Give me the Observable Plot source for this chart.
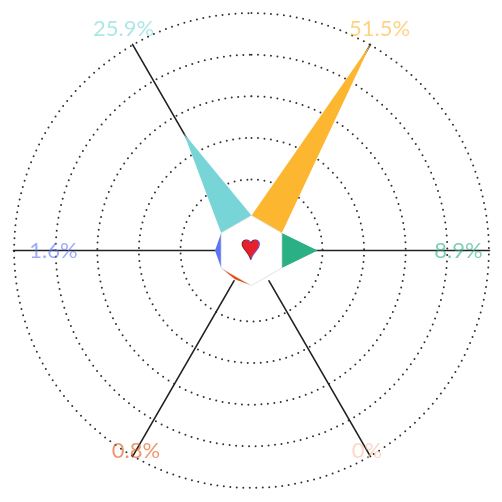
<!DOCTYPE html>
<html>
<head>
<meta charset="utf-8">
<script src="https://cdn.jsdelivr.net/npm/d3@7"></script>
<script src="https://cdn.jsdelivr.net/npm/@observablehq/plot@0.6"></script>
<style>
  body { margin: 0; background: #fff; }
  #chart text.lbl { filter: blur(0.5px); }
</style>
</head>
<body>
<div id="chart"></div>
<script>
// datos
const labels = ["51.5%", "8.9%", "0%", "0.8%", "1.6%", "25.9%"]
const values = [51.5, 8.9, 0, 0.8, 1.6, 25.9]
const angles = [30, 90, 150, 210, 270, 330]
const colors = ["#FDB62F", "#2BAF84", "#F4BFA6", "#E2500F", "#5B73F8", "#78D5D7"]
const labelR = [256, 207, 231, 231, 198, 256]
const rings = [1, 2, 3, 4, 5]

const cx = 251, cy = 250, hexR = 35
const r = d3.scaleLinear().domain([0, 51.5]).range([30, 239])
const pt = (a, rad) => [cx + rad * Math.sin(a * Math.PI / 180), cy - rad * Math.cos(a * Math.PI / 180)]

let wedges = []
values.forEach((v, i) => {
  const a = angles[i]
  ;[pt(a - 30, hexR), pt(a, r(v)), pt(a + 30, hexR)].forEach(p => wedges.push({x: p[0], y: p[1], k: i}))
})
let hex = d3.range(0, 361, 60).map(a => { const p = pt(a, hexR); return {x: p[0], y: p[1]} })
let circles = []
rings.forEach(k => d3.range(0, 361, 2).forEach(a => { const p = pt(a, 71 + (k - 1) * 41.6); circles.push({x: p[0], y: p[1], k}) }))
let axes = []
angles.forEach((a, i) => [hexR, 238].forEach(rad => { const p = pt(a, rad); axes.push({x: p[0], y: p[1], k: i}) }))
let lbls = angles.map((a, i) => { const p = pt(a, labelR[i]); return {x: p[0], y: p[1], t: labels[i], c: colors[i]} })

let chart = Plot.plot({
  width: 502, height: 502,
  margin: 0,
  x: {domain: [0, 502], range: [0, 502], axis: null},
  y: {domain: [0, 502], range: [0, 502], axis: null},
  marks: [
    Plot.line(circles, {x: "x", y: "y", z: "k", stroke: "#333", strokeWidth: 2, strokeDasharray: "0,6.5", strokeLinecap: "round"}),
    Plot.line(axes, {x: "x", y: "y", z: "k", stroke: "#222", strokeWidth: 1.6}),
    Plot.line(wedges, {x: "x", y: "y", z: "k", fill: d => colors[d.k], stroke: "none"}),
    Plot.line(hex, {x: "x", y: "y", fill: "white", stroke: "#ddd", strokeWidth: 0.8, style: "filter: drop-shadow(0 0 1.5px rgba(0,0,0,0.25))"}),
    Plot.text(["♥"], {x: cx - 1, y: cy - 2, fill: "#E8202A", stroke: "#1428A0", strokeWidth: 1.2, fontSize: 34}),
    Plot.text(lbls, {x: "x", y: "y", text: "t", fill: "c", fillOpacity: 0.6, fontSize: 22, fontFamily: "Lato"})
  ]
})
d3.select(chart).selectAll("text").filter(function() { return this.textContent.includes("%") }).attr("class", "lbl")
d3.select('#chart').append(() => chart)
</script>
</body>
</html>
